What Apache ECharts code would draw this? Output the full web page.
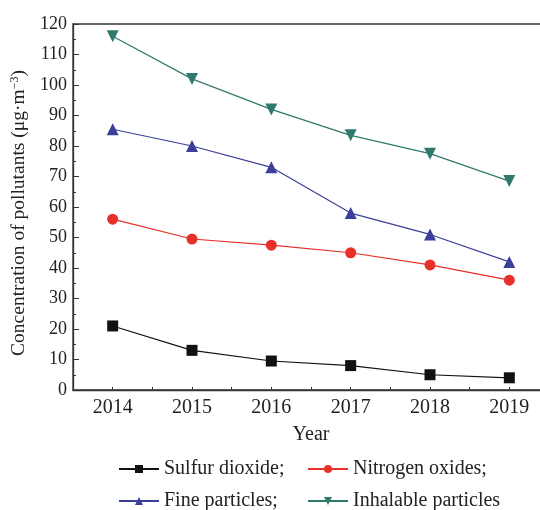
<!DOCTYPE html>
<html><head><meta charset="utf-8">
<script src="https://cdn.jsdelivr.net/npm/echarts@6/dist/echarts.min.js"></script>
<style>html,body{margin:0;padding:0;background:#fff}#c{width:540px;height:510px}</style>
</head><body><div id="c"></div>
<script>
const years = [2014, 2015, 2016, 2017, 2018, 2019];
const sulfurDioxide = [21, 13, 9.5, 8, 5, 4];
const nitrogenOxides = [56, 49.5, 47.5, 45, 41, 36];
const fineParticles = [85.5, 80, 73, 58, 51, 42];
const inhalableParticles = [116, 102, 92, 83.5, 77.5, 68.5];
const seriesNames = ['Sulfur dioxide;', 'Nitrogen oxides;', 'Fine particles;', 'Inhalable particles'];
const yTicks = [0, 10, 20, 30, 40, 50, 60, 70, 80, 90, 100, 110, 120];

const FONT = '"Liberation Serif", "Times New Roman", serif';
const colors = ['#111111', '#e8302a', '#3b3f9a', '#2f7a6d'];
const symbols = ['rect', 'circle', 'triangle', 'path://M0,0 L10,0 L5,9 Z'];
const sizes = [11, 11, 12, 12];
const dataSets = [sulfurDioxide, nitrogenOxides, fineParticles, inhalableParticles];

const series = dataSets.map((d, i) => ({
  name: seriesNames[i],
  type: 'line',
  data: d.map((v, j) => [years[j], v]),
  symbol: symbols[i],
  symbolSize: sizes[i],
  showAllSymbol: true,
  itemStyle: { color: colors[i] },
  lineStyle: { color: colors[i], width: 1.2 },
  emphasis: { disabled: true },
  animation: false
}));

const legendPos = [[118, 459], [307, 459], [118, 491], [307, 491]];
const legends = seriesNames.map((n, i) => ({
  data: [n],
  left: legendPos[i][0],
  top: legendPos[i][1],
  padding: 0,
  itemWidth: 40,
  itemHeight: 10,
  itemGap: 5,
  selectedMode: false,
  textStyle: { fontFamily: FONT, fontSize: 20, color: '#222', padding: [0, 0, 0, 0] }
}));

const chart = echarts.init(document.getElementById('c'), null, { renderer: 'canvas' });
chart.setOption({
  backgroundColor: '#fff',
  animation: false,
  grid: { left: 73, right: -9, top: 24, bottom: 120, outerBoundsMode: 'none', containLabel: false,
    show: true, borderColor: '#333', borderWidth: 1.3, backgroundColor: 'transparent' },
  legend: legends,
  xAxis: [{
    type: 'value', min: 2013.5, max: 2019.5, interval: 0.5,
    name: 'Year', nameLocation: 'middle', nameGap: 35,
    nameTextStyle: { fontFamily: FONT, fontSize: 20, color: '#222' },
    axisLine: { lineStyle: { color: '#333', width: 1.3 } },
    axisTick: { inside: true, length: 3, lineStyle: { color: '#333' } },
    axisLabel: { fontFamily: FONT, fontSize: 20, color: '#222', margin: 8,
      formatter: v => (Number.isInteger(v) && years.includes(v)) ? String(v) : '', showMinLabel: true, showMaxLabel: true },
    splitLine: { show: false }
  }, {
    type: 'category', data: years.map(String), boundaryGap: true, position: 'bottom',
    axisLine: { show: false },
    axisTick: { inside: true, alignWithLabel: true, length: 6, lineStyle: { color: '#333' } },
    axisLabel: { show: false },
    splitLine: { show: false }
  }],
  yAxis: {
    type: 'value', min: yTicks[0], max: yTicks[yTicks.length - 1], interval: 10,
    name: 'Concentration of pollutants (μg·m{sup|−3})',
    nameLocation: 'middle', nameGap: 36, nameRotate: 90,
    nameTextStyle: { fontFamily: FONT, fontSize: 19.5, color: '#222', padding: [0, 12, 0, 0],
      rich: { sup: { fontFamily: FONT, fontSize: 12, color: '#222', verticalAlign: 'top', padding: [0, 0, 8, 0] } } },
    axisLine: { show: true, lineStyle: { color: '#333', width: 1.3 } },
    axisTick: { show: true, inside: true, length: 6, lineStyle: { color: '#333' } },
    minorTick: { show: true, splitNumber: 2, length: 3, lineStyle: { color: '#333' } },
    axisLabel: { fontFamily: FONT, fontSize: 18, color: '#222', margin: 6 },
    splitLine: { show: false }
  },
  series: series
});
</script></body></html>
